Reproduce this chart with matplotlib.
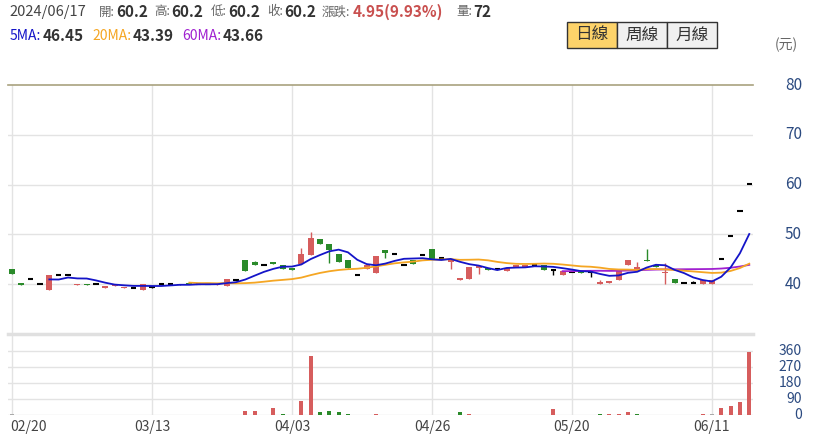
import numpy as np
import pandas as pd
from matplotlib import pyplot as plt
from matplotlib.patches import Rectangle
import matplotlib.transforms as mtransforms

plt.rcParams['font.family'] = ['Noto Sans CJK TC', 'DejaVu Sans']

# 日K資料 (02/20 ~ 06/17, 80 個交易日)
opens = [43.0, 40.2, 41.0, 40.0, 38.8, 41.9, 41.9, 39.9, 40.1, 40.0,
         39.3, 39.6, 39.2, 39.3, 38.8, 39.5, 40.0, 40.0, 40.1, 40.1,
         40.0, 40.0, 39.9, 39.7, 40.9, 44.9, 44.4, 43.9, 44.5, 43.9,
         43.3, 44.1, 45.8, 49.1, 48.0, 46.0, 44.9, 41.8, 43.1, 42.3,
         46.8, 46.0, 43.9, 44.9, 45.9, 47.0, 45.3, 44.5, 40.8, 41.0,
         43.3, 43.3, 43.0, 42.7, 43.5, 43.5, 43.9, 43.9, 42.9, 41.8,
         42.5, 42.6, 42.4, 40.0, 40.3, 40.8, 43.8, 42.7, 44.9, 43.9,
         42.2, 41.1, 40.3, 40.3, 40.0, 40.0, 45.1, 49.6, 54.6, 60.2]
highs = [43.0, 40.2, 41.0, 40.0, 41.9, 41.9, 41.9, 40.1, 40.1, 40.0,
         39.6, 40.0, 39.4, 39.3, 40.0, 39.7, 40.0, 40.0, 40.1, 40.1,
         40.0, 40.0, 40.1, 41.0, 40.9, 44.9, 44.6, 43.9, 44.5, 43.9,
         43.3, 47.2, 50.5, 49.1, 48.0, 46.0, 44.9, 41.8, 43.8, 45.6,
         46.8, 46.0, 43.9, 44.9, 45.9, 47.0, 45.3, 45.0, 41.2, 43.5,
         43.7, 43.3, 43.0, 43.3, 43.9, 43.9, 43.9, 43.9, 42.9, 42.6,
         42.5, 42.6, 42.4, 40.9, 40.7, 42.9, 44.9, 44.5, 47.0, 43.9,
         44.3, 41.1, 40.3, 40.6, 40.9, 40.9, 45.1, 49.6, 54.6, 60.2]
lows = [42.0, 39.9, 41.0, 40.0, 38.8, 41.9, 41.9, 39.9, 39.9, 40.0,
        39.3, 39.6, 39.2, 39.3, 38.8, 39.3, 40.0, 40.0, 39.9, 40.0,
        40.0, 40.0, 39.9, 39.7, 40.9, 42.7, 43.9, 43.9, 44.0, 43.1,
        42.8, 44.1, 45.8, 48.1, 44.3, 44.5, 43.3, 41.8, 43.1, 42.3,
        45.2, 46.0, 43.9, 44.1, 45.9, 45.1, 45.3, 43.1, 40.8, 41.0,
        42.1, 42.8, 43.0, 42.7, 43.5, 43.5, 43.9, 42.8, 41.8, 41.8,
        42.5, 42.3, 41.5, 40.0, 40.3, 40.8, 43.8, 42.7, 44.7, 43.5,
        40.1, 40.3, 40.3, 40.3, 40.0, 40.0, 45.1, 49.6, 54.6, 60.2]
closes = [42.0, 39.9, 41.0, 40.0, 41.9, 41.9, 41.9, 40.1, 39.9, 40.0,
          39.6, 40.0, 39.4, 39.3, 40.0, 39.5, 40.0, 40.0, 39.9, 40.0,
          40.0, 40.0, 40.1, 41.0, 40.9, 42.7, 43.9, 43.9, 44.0, 43.1,
          42.8, 46.0, 49.3, 48.1, 46.8, 44.5, 43.3, 41.8, 43.8, 45.6,
          46.2, 46.0, 43.9, 44.1, 45.9, 45.1, 45.3, 45.0, 41.2, 43.5,
          43.7, 42.8, 43.0, 43.3, 43.9, 43.9, 43.9, 42.8, 42.9, 42.6,
          42.5, 42.3, 42.4, 40.5, 40.7, 42.9, 44.9, 43.5, 44.7, 43.5,
          42.4, 40.3, 40.3, 40.3, 40.9, 40.9, 45.1, 49.6, 54.6, 60.2]
volumes = [3, 2, 1, 1, 1, 1, 1, 2, 2, 1,
           1, 1, 1, 1, 2, 1, 1, 1, 1, 1,
           1, 1, 2, 2, 2, 22, 22, 1, 37, 3,
           1, 80, 334, 15, 24, 17, 7, 1, 1, 7,
           1, 1, 1, 1, 1, 1, 1, 2, 15, 3,
           2, 1, 1, 1, 1, 1, 1, 1, 32, 1,
           1, 1, 2, 3, 3, 3, 17, 3, 2, 1,
           2, 1, 1, 1, 3, 3, 37, 51, 75, 356]
tick_idx = [0, 15, 30, 45, 60, 75]
tick_labels = ['02/20', '03/13', '04/03', '04/26', '05/20', '06/11']
price_ticks = [40, 50, 60, 70, 80]
vol_ticks = [0, 90, 180, 270, 360]

RED = '#d65d5d'
GREEN = '#2a8a2a'
GRID = '#e3e3e3'

o = np.array(opens); h = np.array(highs); l = np.array(lows); c = np.array(closes)
v = np.array(volumes)
x = np.arange(len(c))
ma = {n: pd.Series(c).rolling(n).mean() for n in (5, 20, 60)}

fig = plt.figure(figsize=(8.24, 4.45), dpi=100)
W, H = 824, 445
ax = fig.add_axes([8 / W, (H - 334) / H, 745 / W, 249 / H])
axv = fig.add_axes([8 / W, (H - 415) / H, 745 / W, 81 / H])

for a in (ax, axv):
    a.set_xlim(-0.43, 79.4)
    for s in a.spines.values():
        s.set_visible(False)
    a.set_xticks([])
    a.set_yticks([])
    for t in tick_idx:
        a.axvline(t, color=GRID, lw=1, zorder=0)

ax.set_ylim(30, 80)
axv.set_ylim(0, 455)

# 價格格線
for p in price_ticks[:-1]:
    ax.axhline(p, color=GRID, lw=1, zorder=0)
ax.axhline(80, color='#a9a27f', lw=1.2, zorder=0, clip_on=False)
for vv in vol_ticks:
    axv.axhline(vv, color=GRID, lw=1, zorder=0)
axv.axhline(455, color='#e0e0e0', lw=2.5, zorder=0, clip_on=False)

# K線
for i in x:
    if c[i] > o[i]:
        col = RED
    elif c[i] < o[i]:
        col = GREEN
    else:
        col = 'black'
    if h[i] > l[i]:
        ax.vlines(i, l[i], h[i], color=col, lw=1, zorder=3)
    if col == 'black':
        ax.hlines(c[i], i - 0.28, i + 0.28, color='black', lw=1.5, zorder=3)
    else:
        lo = min(o[i], c[i])
        ht = max(abs(c[i] - o[i]), 0.2)
        ax.add_patch(Rectangle((i - 0.33, lo), 0.66, ht, color=col, zorder=3, lw=0))

ax.plot(x, ma[60], color='#a020d0', lw=1.3, zorder=4)
ax.plot(x, ma[20], color='#f5a623', lw=1.3, zorder=4)
ax.plot(x, ma[5], color='#1414c8', lw=1.3, zorder=5)

# 成交量
prev = np.concatenate([[c[0]], c[:-1]])
vcol = [RED if c[i] > prev[i] else GREEN if c[i] < prev[i] else '#aaaaaa' for i in x]
axv.bar(x, v, width=0.42, color=vcol, zorder=3)

# 右側刻度
tr = mtransforms.blended_transform_factory(ax.transAxes, ax.transData)
for p in price_ticks:
    ax.text(1.0658, p, str(p), transform=tr, ha='right', va='center',
            fontsize=11, color='#2b4a80')
trv = mtransforms.blended_transform_factory(axv.transAxes, axv.transData)
for vv in vol_ticks:
    axv.text(1.0658, vv, str(vv), transform=trv, ha='right', va='center',
             fontsize=10, color='#2b4a80')
fig.text(786 / W, 1 - 45 / H, '(元)', ha='center', va='center', fontsize=10, color='#666666')

# 日期
trd = mtransforms.blended_transform_factory(axv.transData, axv.transAxes)
for t, lab in zip(tick_idx, tick_labels):
    if t == 0:
        axv.text(-0.2, -0.148, lab, transform=trd, ha='left', va='center', fontsize=10, color='#444444')
    else:
        axv.text(t, -0.148, lab, transform=trd, ha='center', va='center', fontsize=10, color='#444444')

# 上方資訊列
def put(px, py, s, color='#333333', bold=False, size=10.5):
    fig.text(px / W, 1 - py / H, s, ha='left', va='center', color=color,
             fontsize=size, fontweight='bold' if bold else 'normal')

put(9, 12, '2024/06/17', '#444444')
for lab, lx, val, vx in [('開:', 99, '60.2', 116), ('高:', 154, '60.2', 171),
                         ('低:', 211, '60.2', 228), ('收:', 267, '60.2', 284)]:
    put(lx, 12, lab, '#666666', size=9)
    put(vx, 12, val, '#333333', True, 11)
put(322, 12, '漲跌:', '#666666', size=9)
put(353, 12, '4.95(9.93%)', '#c9504f', True, 11)
put(456, 12, '量:', '#666666', size=9)
put(473, 12, '72', '#333333', True, 11)

put(10, 36, '5MA:', '#1414c8', size=10)
put(43, 36, '46.45', '#333333', True, 11)
put(92, 36, '20MA:', '#f5a623', size=10)
put(133, 36, '43.39', '#333333', True, 11)
put(182, 36, '60MA:', '#a020d0', size=10)
put(223, 36, '43.66', '#333333', True, 11)

# 日/周/月線按鈕
for (bx, lab, bg) in [(567, '日線', '#fdd36a'), (617, '周線', '#f0f0f0'), (667, '月線', '#f0f0f0')]:
    fig.patches.append(Rectangle((bx / W, 1 - 48 / H), 50 / W, 26 / H, transform=fig.transFigure,
                                 facecolor=bg, edgecolor='#333333', lw=1))
    fig.text((bx + 25) / W, 1 - 35 / H, lab, ha='center', va='center', fontsize=12, color='#333333')

fig.savefig('out.png', dpi=100)
